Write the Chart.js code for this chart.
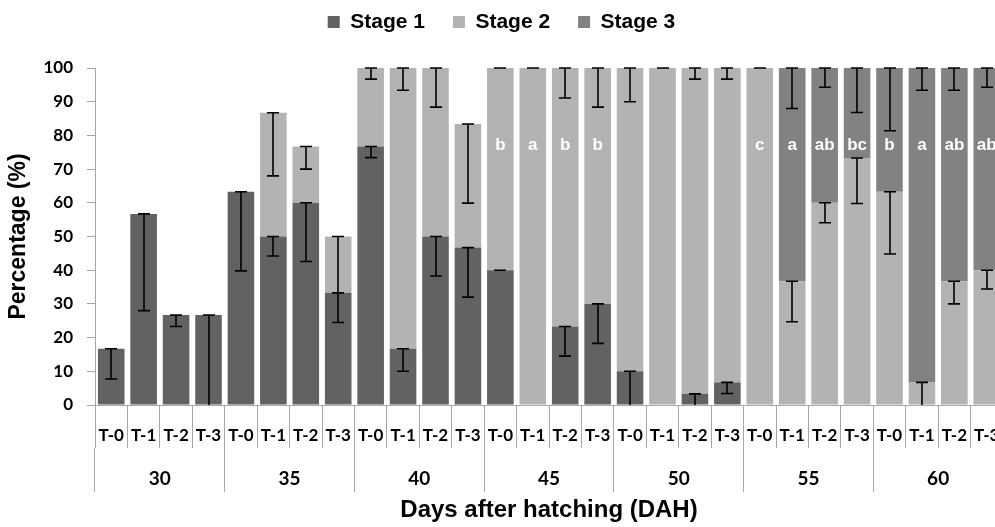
<!DOCTYPE html>
<html><head><meta charset="utf-8">
<script src="https://cdn.jsdelivr.net/npm/chart.js@4.4.1/dist/chart.umd.min.js"></script>
<style>
html,body{margin:0;padding:0;overflow:hidden;background:#fff;width:995px;height:527px}
#wrap{position:relative;width:1003px;height:527px}
</style></head>
<body><div id="wrap"><canvas id="c"></canvas></div>
<script>
const days = ['30','35','40','45','50','55','60'];
const treatments = ['T-0','T-1','T-2','T-3'];
const seriesNames = ['Stage 1','Stage 2','Stage 3'];
const yTicks = [0,10,20,30,40,50,60,70,80,90,100];

const stage1 = [16.7,56.7,26.7,26.7, 63.3,50,60,33.3, 76.7,16.7,50,46.7, 40,0,23.3,30, 10,0,3.3,6.7, 0,0,0,0, 0,0,0,0];
const stage2 = [0,0,0,0, 0,36.7,16.7,16.7, 23.3,83.3,50,36.7, 60,100,76.7,70, 90,100,96.7,93.3, 100,36.7,60,73.3, 63.3,6.7,36.7,40];
const stage3 = [0,0,0,0, 0,0,0,0, 0,0,0,0, 0,0,0,0, 0,0,0,0, 0,63.3,40,26.7, 36.7,93.3,63.3,60];

const stage1Err = [9.0,28.7,3.4,26.7, 23.5,5.8,17.4,8.8, 3.3,6.7,11.7,14.7, 0,null,8.8,11.7, 10,null,3.3,3.3, null,null,null,null, null,null,null,null];
const stage2Err = [null,null,null,null, null,18.7,6.7,16.7, 3.3,6.6,11.6,23.5, 0,0,8.9,11.6, 10,0,3.3,3.3, 0,12,5.9,13.5, 18.5,6.7,6.7,5.6];
const stage3Err = [null,null,null,null, null,null,null,null, null,null,null,null, null,null,null,null, null,null,null,null, null,12,5.7,13.2, 18.6,6.6,6.6,5.7];

const letters = ['','','','', '','','','', '','','','', 'b','a','b','b', '','','','', 'c','a','ab','bc', 'b','a','ab','ab'];
const LETTER_Y = 75.7;

const xLabels = [];
days.forEach(() => treatments.forEach(t => xLabels.push(t)));

const AXIS = '#a6a6a6';
const ARIAL = '"Liberation Sans", Arial, sans-serif';
const CAL = 'Lato, "Liberation Sans", sans-serif';

const legendFix = {
  id: 'legendFix',
  beforeLayout(chart) {
    const lg = chart.legend;
    if (lg && !lg._fx) {
      const f = lg.fit;
      lg.fit = function () { f.call(this); this.height = 84.5; };
      lg._fx = true;
    }
  }
};

const errPlugin = {
  id: 'errbars',
  afterDatasetsDraw(chart) {
    const ctx = chart.ctx, ys = chart.scales.y;
    const errs = [stage1Err, stage2Err, stage3Err];
    const vals = [stage1, stage2, stage3];
    ctx.save();
    ctx.strokeStyle = '#000';
    ctx.lineWidth = 1.6;
    for (let d = 0; d < 3; d++) {
      const meta = chart.getDatasetMeta(d);
      meta.data.forEach((bar, j) => {
        const e = errs[d][j];
        if (e === null || e === undefined) return;
        let top = 0;
        for (let k = 0; k <= d; k++) top += vals[k][j];
        const low = top - e;
        const y1 = ys.getPixelForValue(top), y2 = ys.getPixelForValue(low);
        const x = Math.round(bar.x);
        ctx.beginPath();
        ctx.moveTo(x, y1); ctx.lineTo(x, y2);
        ctx.moveTo(x - 6, y1); ctx.lineTo(x + 6, y1);
        if (low > 0.5) { ctx.moveTo(x - 6, y2); ctx.lineTo(x + 6, y2); }
        ctx.stroke();
      });
    }
    ctx.fillStyle = '#fff';
    ctx.font = 'bold 17px ' + ARIAL;
    ctx.textAlign = 'center';
    ctx.textBaseline = 'alphabetic';
    const m0 = chart.getDatasetMeta(0);
    letters.forEach((t, j) => {
      if (!t) return;
      ctx.fillText(t, m0.data[j].x, ys.getPixelForValue(LETTER_Y));
    });
    ctx.restore();
  }
};

new Chart(document.getElementById('c'), {
  type: 'bar',
  data: {
    labels: xLabels,
    datasets: [
      { label: seriesNames[0], data: stage1, backgroundColor: '#626262' },
      { label: seriesNames[1], data: stage2, backgroundColor: '#b3b3b3' },
      { label: seriesNames[2], data: stage3, backgroundColor: '#828282' }
    ]
  },
  options: {
    responsive: true,
    maintainAspectRatio: false,
    animation: false,
    devicePixelRatio: 1,
    layout: { padding: { top: -16.5, left: 0, right: 0, bottom: 0 } },
    datasets: { bar: { barPercentage: 0.82, categoryPercentage: 1, borderWidth: 0 } },
    plugins: {
      legend: {
        position: 'top',
        labels: { font: { family: ARIAL, size: 21, weight: 'bold' }, color: '#000', boxWidth: 12, boxHeight: 12, padding: 28 }
      },
      tooltip: { enabled: false }
    },
    scales: {
      x: {
        stacked: true, offset: true, weight: 0,
        grid: { offset: true, drawOnChartArea: false, tickLength: 43, color: AXIS },
        border: { color: AXIS },
        ticks: { autoSkip: false, maxRotation: 0, minRotation: 0, color: '#000', font: { family: CAL, size: 17, weight: 'bold' }, padding: -23 },
        afterFit(s) { s.height = 43; }
      },
      x2: {
        type: 'category', labels: days, position: 'bottom', offset: true, weight: 1,
        grid: { offset: true, drawOnChartArea: false, tickLength: 44, color: AXIS },
        border: { display: false },
        ticks: { autoSkip: false, maxRotation: 0, color: '#000', font: { family: CAL, size: 19, weight: 'bold' }, padding: -25 },
        title: { display: true, text: 'Days after hatching (DAH)', color: '#000', font: { family: ARIAL, size: 24, weight: 'bold' }, padding: { top: 0, bottom: 2 } },
        afterFit(s) { s.height = 79; }
      },
      y: {
        stacked: true, min: 0, max: 100,
        afterBuildTicks(s) { s.ticks = yTicks.map(v => ({ value: v })); },
        ticks: { color: '#000', font: { family: CAL, size: 17, weight: 'bold' }, padding: 14 },
        grid: { drawOnChartArea: false, tickLength: 8, color: AXIS },
        border: { color: AXIS },
        title: { display: true, text: 'Percentage (%)', color: '#000', font: { family: ARIAL, size: 23, weight: 'bold' }, padding: { top: 5, bottom: 0 } },
        afterFit(s) { s.width = 95; }
      }
    }
  },
  plugins: [legendFix, errPlugin]
});
</script>
</body></html>
